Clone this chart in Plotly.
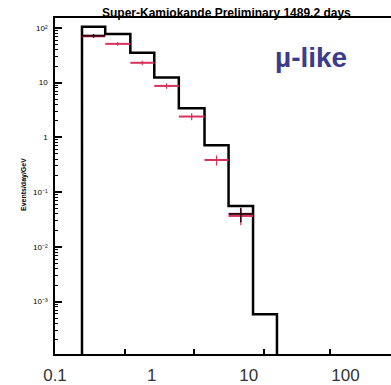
import plotly.graph_objects as go

# ---- data ----
bin_edges = [0.19, 0.33, 0.60, 1.06, 1.90, 3.5, 6.2, 11.1, 19.6]
mc_values = [105, 77, 35, 12.4, 3.4, 0.72, 0.056, 0.00059]
data_red = [70, 51, 23, 8.7, 2.4, 0.386, 0.0367, None]
data_red_err = [5, 4, 2.2, 1.0, 0.35, 0.08, 0.012, None]
data_black = [72, None, None, None, None, None, 0.040, None]
data_black_err = [5, None, None, None, None, None, 0.012, None]

x_tick_vals = [0.1, 1, 10, 100]
x_tick_text = ["0.1", "1", "10", "100"]
x_minor_ticks = [0.53, 2.7, 14.4, 70]
y_tick_vals = [100, 10, 1, 0.1, 0.01, 0.001]
y_tick_text = ["10²", "10", "1", "10⁻¹", "10⁻²", "10⁻³"]

title_text = "Super-Kamiokande Preliminary 1489.2 days"
ytitle_text = "Events/day/GeV"
label_text = "µ-like"

x_range_log = [-1.0, 2.47]
y_range_log = [-3.957, 2.18]
floor = 10 ** y_range_log[0]

# step outline of the MC histogram
hx, hy = [bin_edges[0]], [floor]
for i, v in enumerate(mc_values):
    hx += [bin_edges[i], bin_edges[i + 1]]
    hy += [v, v]
hx.append(bin_edges[-1])
hy.append(floor)

centers = [(bin_edges[i] * bin_edges[i + 1]) ** 0.5 for i in range(len(mc_values))]
ex_plus = [bin_edges[i + 1] - centers[i] for i in range(len(centers))]
ex_minus = [centers[i] - bin_edges[i] for i in range(len(centers))]

RED = "#d6335c"
DARK = "#300010"

fig = go.Figure()
fig.add_trace(go.Scatter(x=hx, y=hy, mode="lines",
                         line=dict(color="black", width=2.5), hoverinfo="skip"))
fig.add_trace(go.Scatter(
    x=centers, y=data_red, mode="markers",
    marker=dict(size=1, color=RED),
    error_x=dict(type="data", array=ex_plus, arrayminus=ex_minus,
                 color=RED, thickness=2, width=0),
    error_y=dict(type="data", array=data_red_err, color=RED,
                 thickness=1.2, width=0)))
fig.add_trace(go.Scatter(
    x=centers, y=data_black, mode="markers",
    marker=dict(size=1, color=DARK),
    error_x=dict(type="data", array=ex_plus, arrayminus=ex_minus,
                 color=DARK, thickness=2, width=0),
    error_y=dict(type="data", array=data_black_err, color=DARK,
                 thickness=1.5, width=0)))
# invisible trace that carries the minor-tick overlay axes
fig.add_trace(go.Scatter(x=[1], y=[1], xaxis="x2", yaxis="y2", mode="markers",
                         marker=dict(size=1, opacity=0), hoverinfo="skip"))

y_minor = [m * 10 ** e for e in range(-4, 3) for m in range(2, 10)]

common = dict(showgrid=False, zeroline=False)
fig.update_layout(
    width=391, height=385,
    margin=dict(l=55, r=0, t=18, b=27),
    paper_bgcolor="white", plot_bgcolor="white",
    showlegend=False,
    font=dict(family="Liberation Sans, Arial, sans-serif"),
    xaxis=dict(type="log", range=x_range_log, tickvals=x_tick_vals,
               ticktext=x_tick_text, ticks="", **common,
               showline=True, linecolor="black", linewidth=1.5, mirror=True,
               tickfont=dict(size=17, color="#333333"), ticklabelstandoff=5),
    yaxis=dict(type="log", range=y_range_log, tickvals=y_tick_vals,
               ticktext=y_tick_text, ticks="inside", ticklen=7, tickwidth=1.5,
               tickcolor="black", **common,
               showline=True, linecolor="black", linewidth=1.5,
               tickfont=dict(size=8, color="black", family="Liberation Sans, Arial"),
               ticklabelstandoff=4),
    xaxis2=dict(type="log", range=x_range_log, overlaying="x", anchor="y",
                side="bottom", tickvals=x_minor_ticks, ticks="inside",
                ticklen=5, tickwidth=1.5, tickcolor="black",
                showticklabels=False, showline=False, **common),
    yaxis2=dict(type="log", range=y_range_log, overlaying="y", anchor="x",
                side="left", tickvals=y_minor, ticks="inside", ticklen=3,
                tickwidth=1, tickcolor="black", showticklabels=False,
                showline=False, **common),
    annotations=[
        dict(text="<b>" + title_text + "</b>", x=(226 - 55) / 336, xref="paper",
             y=1.0147, yref="paper", showarrow=False, xanchor="center",
             yanchor="middle", font=dict(size=12, color="black")),
        dict(text="<b>" + ytitle_text + "</b>", x=-0.11, xref="paper",
             xshift=6, y=0.503, yref="paper", showarrow=False, textangle=-90,
             xanchor="center", yanchor="middle", font=dict(size=7, color="black")),
        dict(text="<b>" + label_text + "</b>", x=(311 - 55) / 336, xref="paper",
             y=0.881, yref="paper", showarrow=False, xanchor="center",
             yanchor="middle", font=dict(size=28, color="#3c3c8c")),
    ],
)

fig.write_html("out.html")
